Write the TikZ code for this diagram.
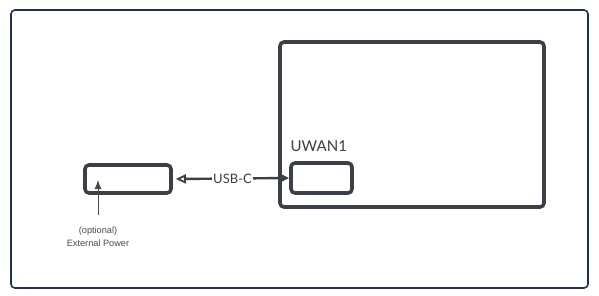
\documentclass[tikz,border=0pt]{standalone}
\usepackage{fontspec}
\setmainfont{Lato}
\newfontfamily\notefont{Liberation Sans}
\usetikzlibrary{arrows.meta}
\definecolor{boxgray}{HTML}{3B3F46}
\definecolor{framenavy}{HTML}{1F2F4D}
\definecolor{notegray}{HTML}{4A4A4A}

\begin{document}
\begin{tikzpicture}[x=1pt, y=-1pt, >=Latex,
    thickbox/.style={draw=boxgray, line width=3.6pt, rounded corners=4pt, inner sep=0pt},
    usblink/.style={draw=boxgray, line width=2.4pt}]
    \useasboundingbox (0,0) rectangle (599,295);
    \draw[framenavy, line width=1.6pt, rounded corners=4pt] (11,10) rectangle (588,288);
    % boards
    \node[thickbox, minimum width=264pt, minimum height=165pt] (board) at (412,124.5) {};
    \node[thickbox, minimum width=61pt, minimum height=30pt] (uwan) at (321.5,178) {};
    \node[thickbox, minimum width=86pt, minimum height=28pt] (ext) at (128,179) {};
    \node[anchor=base west, inner sep=0pt, font=\fontsize{15}{18}\selectfont, text=boxgray] (uwanlabel) at (290.5,151) {UWAN1};
    % cable
    \draw[usblink, {Triangle[open, length=10pt, width=9pt, line width=1.8pt]}-{Triangle[length=10pt, width=9pt]}]
        (ext.east) ++(3pt,0) coordinate (usbstart) (usbstart) -- (uwan.west)
        node[midway, fill=white, inner sep=1pt, font=\fontsize{13}{15}\selectfont, text=boxgray] (usblabel) {USB-C};
    % external power
    \coordinate (pwbase) at (98,215);
    \coordinate (pwtip) at (98,180);
    \draw[->, notegray, line width=0.9pt, >={Latex[length=9pt, width=7pt]}] (pwbase) -- (pwtip);
    \node[anchor=north, align=center, inner sep=0pt, text=notegray, font=\notefont\fontsize{9.2}{12.5}\selectfont] (pwlabel) at (98,227) {(optional)\\External Power};
\end{tikzpicture}
\end{document}
